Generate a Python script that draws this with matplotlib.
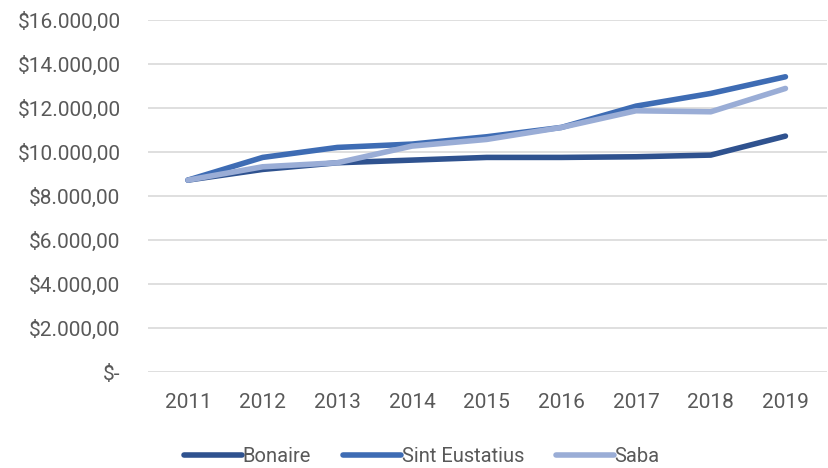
import matplotlib
matplotlib.use("Agg")
import matplotlib.pyplot as plt
from matplotlib.ticker import FuncFormatter

years = ["2011", "2012", "2013", "2014", "2015", "2016", "2017", "2018", "2019"]
bonaire = [8727, 9212, 9515, 9636, 9758, 9758, 9788, 9864, 10727]
sint_eustatius = [8727, 9758, 10212, 10364, 10697, 11121, 12091, 12667, 13424]
saba = [8727, 9333, 9515, 10273, 10576, 11121, 11879, 11833, 12894]

plt.rcParams['font.family'] = ['Roboto', 'DejaVu Sans']

fig = plt.figure(figsize=(8.29, 4.68), dpi=100)
ax = fig.add_axes([0.179, 0.205, 0.818, 0.752])

x = range(len(years))
ax.plot(x, bonaire, color='#2f528f', lw=4, label='Bonaire', solid_capstyle='round')
ax.plot(x, sint_eustatius, color='#3e6cb4', lw=4, label='Sint Eustatius', solid_capstyle='round')
ax.plot(x, saba, color='#9aadd6', lw=4, label='Saba', solid_capstyle='round')

ax.set_xlim(-0.53, 8.55)
ax.set_ylim(0, 16000)
ax.set_yticks(range(0, 16001, 2000))


def money(v, pos):
    if v == 0:
        return '$-'
    s = f"{v:,.2f}".replace(',', 'X').replace('.', ',').replace('X', '.')
    return '$' + s


ax.yaxis.set_major_formatter(FuncFormatter(money))
ax.set_xticks(list(x))
ax.set_xticklabels(years)
ax.tick_params(axis='both', length=0, labelsize=15, colors='#595959')
ax.tick_params(axis='y', pad=20)
ax.tick_params(axis='x', pad=15)
ax.grid(axis='y', color='#d9d9d9', lw=1.2)
ax.set_axisbelow(True)
for s in ax.spines.values():
    s.set_visible(False)

leg = fig.legend(loc='center', bbox_to_anchor=(0.509, 0.024), ncol=3, frameon=False,
                 fontsize=14.5, handlelength=2.85, handletextpad=0.05, columnspacing=1.6)
for t in leg.get_texts():
    t.set_color('#595959')

fig.savefig('out.png', dpi=100)
